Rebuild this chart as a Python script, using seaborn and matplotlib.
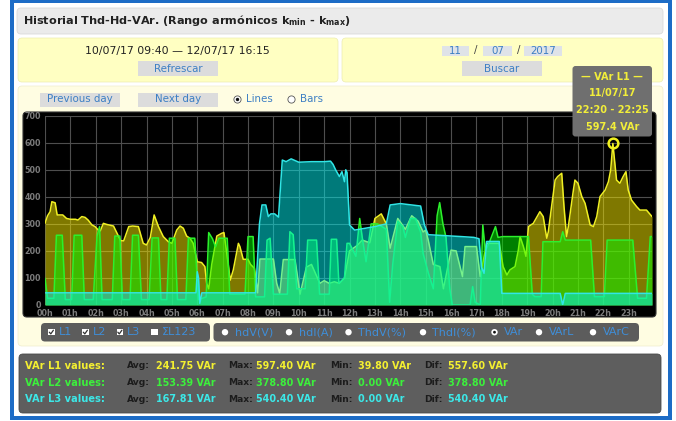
import numpy as np
import seaborn as sns
import matplotlib.pyplot as plt
from matplotlib.patches import FancyBboxPatch, Rectangle, Circle

W, H = 676, 421

# ---- series data (hour of day, VAr) ----
l1_hours = [0.00, 0.10, 0.20, 0.27, 0.40, 0.48, 0.70, 0.85, 1.00, 1.20, 1.30, 1.45, 1.58, 1.70,
            1.85, 1.97, 2.10, 2.18, 2.30, 2.43, 2.56, 2.70, 2.90, 2.98, 3.10, 3.30, 3.45, 3.68,
            3.87, 4.00, 4.15, 4.30, 4.47, 4.66, 4.86, 5.00, 5.19, 5.32, 5.45, 5.58, 5.71, 5.84,
            6.00, 6.17, 6.30, 6.37, 6.45, 6.57, 6.77, 6.96, 7.05, 7.15, 7.30, 7.42, 7.62, 7.68,
            7.81, 8.00, 8.10, 8.25, 8.38, 8.47, 9.00, 9.13, 9.25, 9.39, 9.85, 10.05, 10.30, 10.50,
            10.64, 10.83, 11.00, 11.20, 11.40, 11.60, 11.80, 12.00, 12.30, 12.50, 12.80, 13.00,
            13.25, 13.45, 13.60, 13.90, 14.20, 14.45, 14.70, 14.90, 15.00, 15.10, 15.30, 15.56,
            15.70, 16.00, 16.20, 16.45, 16.55, 17.00, 17.15, 17.40, 17.90, 18.05, 18.20, 18.32,
            18.52, 18.65, 18.72, 18.85, 18.95, 19.05, 19.24, 19.50, 19.63, 19.77, 19.83, 19.96,
            20.10, 20.20, 20.36, 20.45, 20.55, 20.62, 20.82, 20.88, 21.00, 21.15, 21.28, 21.48,
            21.61, 21.74, 21.87, 22.07, 22.20, 22.29, 22.375, 22.52, 22.65, 22.78, 22.89, 22.98,
            23.11, 23.31, 23.44, 23.70, 23.917]
l1_vals = [302, 330, 345, 382, 378, 333, 333, 320, 317, 317, 314, 327, 324, 314,
           296, 290, 277, 274, 302, 298, 295, 292, 253, 238, 237, 290, 292, 290,
           228, 222, 250, 333, 290, 253, 234, 228, 277, 292, 284, 255, 247, 228,
           160, 157, 142, 80, 60, 150, 255, 265, 268, 200, 92, 130, 228, 216,
           169, 169, 150, 136, 45, 170, 170, 80, 43, 168, 168, 40, 140, 150,
           120, 80, 90, 80, 86, 80, 100, 200, 220, 240, 230, 320,
           337, 300, 210, 320, 280, 330, 310, 270, 277, 240, 150, 142,
           60, 203, 200, 105, 216, 216, 105, 228, 228, 142, 111, 130,
           142, 203, 253, 216, 180, 290, 302, 345, 327, 247, 270, 364,
           462, 475, 487, 364, 253, 290, 425, 462, 450, 401, 376, 296,
           290, 327, 401, 425, 456, 500, 597.4, 462, 450, 475, 493, 425,
           388, 364, 351, 351, 327]

l2_hours = [0.00, 0.10, 0.35, 0.45, 0.68, 0.80, 1.05, 1.15, 1.45, 1.55, 1.90, 2.05, 2.15, 2.25,
            2.65, 2.75, 2.95, 3.05, 3.35, 3.45, 3.68, 3.80, 4.10, 4.22, 4.47, 4.57, 4.80, 4.90,
            5.12, 5.22, 5.55, 5.65, 5.90, 6.05, 6.35, 6.45, 6.60, 6.72, 6.85, 7.18, 7.28, 7.88,
            8.00, 8.20, 8.30, 8.65, 8.75, 8.87, 9.00, 9.55, 9.65, 9.78, 9.92, 10.25, 10.35, 10.70,
            10.82, 11.20, 11.28, 11.49, 11.58, 11.80, 11.90, 12.00, 12.25, 12.40, 12.50, 12.65,
            12.85, 13.10, 13.45, 13.58, 13.70, 13.90, 14.10, 14.20, 14.40, 14.60, 14.80, 14.90,
            15.10, 15.30, 15.45, 15.55, 15.68, 15.80, 15.95, 16.05, 16.75, 16.85, 16.95, 17.15,
            17.25, 17.35, 17.50, 17.75, 17.85, 18.05, 19.05, 19.20, 19.30, 19.55, 19.62, 20.30,
            20.40, 20.50, 21.50, 21.65, 22.04, 22.15, 23.16, 23.35, 23.70, 23.85, 23.917]
l2_vals = [99, 25, 25, 258, 258, 20, 20, 258, 258, 20, 20, 255, 290, 20,
           20, 255, 255, 20, 20, 258, 258, 20, 20, 248, 248, 20, 20, 247,
           247, 20, 20, 247, 247, 20, 30, 268, 245, 215, 247, 247, 40, 40,
           253, 253, 30, 30, 240, 247, 40, 40, 271, 260, 60, 60, 240, 240,
           40, 40, 243, 243, 80, 100, 228, 228, 180, 320, 250, 160,
           300, 300, 280, 10, 150, 310, 290, 250, 320, 320, 270, 190,
           120, 60, 330, 378.8, 300, 250, 60, 0, 0, 68, 10, 0,
           296, 200, 230, 290, 250, 253, 253, 40, 31, 31, 234, 234,
           271, 240, 240, 31, 31, 240, 240, 25, 25, 253, 253]

l3_hours = [0.00, 5.95, 6.00, 6.05, 6.10, 6.18, 8.30, 8.45, 8.55, 8.70, 8.80, 8.90, 9.05, 9.20,
            9.35, 9.50, 9.70, 10.00, 10.50, 11.00, 11.25, 11.35, 11.45, 11.60, 11.70, 11.80,
            11.85, 11.90, 12.00, 12.20, 13.00, 13.45, 13.60, 14.00, 14.80, 14.95, 15.10, 16.40,
            16.90, 17.10, 17.20, 17.30, 17.40, 17.90, 18.00, 20.30, 20.40, 20.50, 23.917]
l3_vals = [45, 45, 123, 100, 6, 45, 45, 300, 370, 370, 327, 337, 337, 325,
           536, 530, 540.4, 528, 530, 530, 532, 520, 500, 475, 493, 456,
           500, 490, 296, 277, 290, 300, 370, 375, 366, 296, 260, 253,
           250, 245, 140, 117, 235, 235, 43, 43, 0, 43, 43]

hour_labels = [f"{h:02d}h" for h in range(24)]
y_ticks = list(range(0, 701, 100))

series_names = ["VAr L1 values:", "VAr L2 values:", "VAr L3 values:"]
avg_vals = ["241.75 VAr", "153.39 VAr", "167.81 VAr"]
max_vals = ["597.40 VAr", "378.80 VAr", "540.40 VAr"]
min_vals = ["39.80 VAr", "0.00 VAr", "0.00 VAr"]
dif_vals = ["557.60 VAr", "378.80 VAr", "540.40 VAr"]

c_line = ["#f0f024", "#2cf02c", "#30e6e6"]
c_fill = ["#fff000", "#00ff00", "#00f4f4"]
c_text = ["#f4f030", "#3cf03c", "#3ce8e8"]

sns.set_style("white")
plt.rcParams['font.family'] = ['DejaVu Sans']
plt.rcParams['mathtext.fontset'] = 'dejavusans'

fig = plt.figure(figsize=(W / 100, H / 100), dpi=100)
fig.patch.set_facecolor("white")

bg = fig.add_axes([0, 0, 1, 1], zorder=0)
bg.set_xlim(0, W)
bg.set_ylim(H, 0)
bg.axis("off")


def rbox(axx, x0, y0, x1, y1, fc, r=4, ec="none", lw=0, z=1):
    p = FancyBboxPatch((x0 + r, y0 + r), x1 - x0 - 2 * r, y1 - y0 - 2 * r,
                       boxstyle=f"round,pad={r}", fc=fc, ec=ec, lw=lw, zorder=z)
    axx.add_patch(p)


# blue frame
blue = "#1d6cc6"
for (x0, y0, w, h) in [(10, 0, 662, 3), (10, 416, 662, 4), (10, 0, 4, 420), (668, 0, 4, 420)]:
    bg.add_patch(Rectangle((x0, y0), w, h, fc=blue, ec="none", zorder=1))

# title bar
rbox(bg, 17, 8, 663, 34, "#ebebeb", r=4, ec="#dadada", lw=0.6)
bg.text(23, 21, r"Historial Thd-Hd-VAr. (Rango armónicos k$_{\mathbf{min}}$ - k$_{\mathbf{max}}$)",
        fontsize=8.1, fontweight="bold", color="#222222", va="center", ha="left")

# top yellow panels
rbox(bg, 18, 38, 338, 82, "#ffffc2", r=4, ec="#ececb0", lw=0.5)
rbox(bg, 342, 38, 663, 82, "#ffffc2", r=4, ec="#ececb0", lw=0.5)
bg.text(177, 51, "10/07/17 09:40 — 12/07/17 16:15", fontsize=7.8, color="#222222",
        ha="center", va="center")
btn_c = "#dcdcdc"
txt_blue = "#3d7fc4"
bg.add_patch(Rectangle((138, 61), 80, 15, fc=btn_c, ec="none", zorder=2))
bg.text(178, 68.5, "Refrescar", fontsize=7.4, color=txt_blue, ha="center", va="center", zorder=3)
for (x0, x1, s) in [(442, 469, "11"), (483, 512, "07"), (524, 562, "2017")]:
    bg.add_patch(Rectangle((x0, 45.5), x1 - x0, 10, fc="#dfe3e8", ec="none", zorder=2))
    bg.text((x0 + x1) / 2, 50.5, s, fontsize=7.4, color=txt_blue, ha="center", va="center", zorder=3)
bg.text(476, 50.5, "/", fontsize=7.4, color="#444444", ha="center", va="center")
bg.text(518.5, 50.5, "/", fontsize=7.4, color="#444444", ha="center", va="center")
bg.add_patch(Rectangle((462, 61), 80, 15, fc=btn_c, ec="none", zorder=2))
bg.text(502, 68.5, "Buscar", fontsize=7.4, color=txt_blue, ha="center", va="center", zorder=3)

# main panel
rbox(bg, 18, 86, 663, 346, "#fffde2", r=4, ec="#eeeccc", lw=0.5)
bg.add_patch(Rectangle((40, 92.5), 80, 14, fc=btn_c, ec="none", zorder=2))
bg.text(80, 99.5, "Previous day", fontsize=7.4, color=txt_blue, ha="center", va="center", zorder=3)
bg.add_patch(Rectangle((138, 92.5), 80, 14, fc=btn_c, ec="none", zorder=2))
bg.text(178, 99.5, "Next day", fontsize=7.4, color=txt_blue, ha="center", va="center", zorder=3)
bg.add_patch(Circle((237.5, 99.5), 3.6, fc="white", ec="#555555", lw=0.6, zorder=3))
bg.add_patch(Circle((237.5, 99.5), 1.7, fc="#111111", ec="none", zorder=4))
bg.text(246, 99.5, "Lines", fontsize=7.4, color=txt_blue, ha="left", va="center")
bg.add_patch(Circle((291.5, 99.5), 3.6, fc="white", ec="#555555", lw=0.6, zorder=3))
bg.text(300, 99.5, "Bars", fontsize=7.4, color=txt_blue, ha="left", va="center")

# chart black box
rbox(bg, 23, 112, 656, 317, "black", r=4, ec="#333333", lw=0.8, z=2)

# legend pills
leg_blue = "#3f8ed8"
rbox(bg, 41, 323, 210, 341.5, "#5c5c5c", r=4, z=2)
rbox(bg, 213.5, 323, 639, 341.5, "#5c5c5c", r=4, z=2)
for (bx, lab, chk) in [(48, "L1", True), (82, "L2", True), (116.5, "L3", True), (151, "ΣL123", False)]:
    bg.add_patch(Rectangle((bx, 328.8), 6.5, 6.5, fc="white", ec="none", zorder=3))
    if chk:
        bg.plot([bx + 1.3, bx + 2.8, bx + 5.4], [332.2, 333.9, 330.2], color="#333333", lw=0.9, zorder=4)
    bg.text(bx + 10.5, 332.2, lab, fontsize=8, color=leg_blue, ha="left", va="center", zorder=4)
for (bx, lab, sel) in [(225, "hdV(V)", False), (289, "hdI(A)", False), (348.5, "ThdV(%)", False),
                       (423, "ThdI(%)", False), (494.5, "VAr", True), (539, "VArL", False),
                       (593, "VArC", False)]:
    bg.add_patch(Circle((bx, 332.2), 3.2, fc="white", ec="none", zorder=3))
    if sel:
        bg.add_patch(Circle((bx, 332.2), 1.4, fc="#111111", ec="none", zorder=4))
    bg.text(bx + 9.5, 332.2, lab, fontsize=8, color=leg_blue, ha="left", va="center", zorder=4)

# stats panel
rbox(bg, 19, 354, 661, 413, "#5e5e5e", r=4, ec="#4a4a4a", lw=0.6)
row_y = [366, 382.7, 399.3]
for i in range(3):
    y = row_y[i]
    kw = dict(fontweight="bold", va="center", ha="left", zorder=3)
    bg.text(25, y, series_names[i], color=c_text[i], fontsize=7.1, **kw)
    for (lx, vx, lab, val) in [(126.5, 156.5, "Avg:", avg_vals[i]), (228, 256.5, "Max:", max_vals[i]),
                               (330, 358.5, "Min:", min_vals[i]), (424, 448.5, "Dif:", dif_vals[i])]:
        bg.text(lx, y, lab, color="#1c1c1c", fontsize=6.6, **kw)
        bg.text(vx, y, val, color=c_text[i], fontsize=6.9, **kw)

# ---- chart ----
ax = fig.add_axes([45 / W, 1 - 305 / H, 607 / W, 189.3 / H], zorder=1)
ax.set_facecolor("black")
ax.set_xlim(0, 23.917)
ax.set_ylim(0, 700)
ax.set_axisbelow(True)
ax.grid(True, color="#4e4e4e", lw=0.8)
for s in ax.spines.values():
    s.set_visible(False)

series = [(l1_hours, l1_vals), (l2_hours, l2_vals), (l3_hours, l3_vals)]
for i, (hx, vy) in enumerate(series):
    ax.fill_between(hx, vy, 0, color=c_fill[i], alpha=0.5, lw=0, zorder=2 + 2 * i)
    sns.lineplot(x=hx, y=vy, ax=ax, color=c_line[i], lw=1.1, estimator=None, sort=False,
                 zorder=3 + 2 * i)

ax.plot([22.375], [597.4], "o", mfc="none", mec="#f0f020", ms=7, mew=1.8, zorder=12)

ax.set_xticks(range(24))
ax.set_xticklabels(hour_labels)
ax.set_yticks(y_ticks)
ax.set_yticklabels([str(v) for v in y_ticks])
ax.tick_params(length=0, colors="#7c7c7c", labelsize=5.8, pad=3)
for t in ax.get_xticklabels() + ax.get_yticklabels():
    t.set_fontweight("bold")
ax.set_xlabel("")
ax.set_ylabel("")

# tooltip
fg = fig.add_axes([0, 0, 1, 1], zorder=3)
fg.set_xlim(0, W)
fg.set_ylim(H, 0)
fg.axis("off")
fg.patch.set_alpha(0)
rbox(fg, 572.5, 66, 652, 136.5, "#6f6f6f", r=3)
for (ty, s) in [(77, "— VAr L1 —"), (92.7, "11/07/17"), (110, "22:20 - 22:25"), (126.7, "597.4 VAr")]:
    fg.text(612.3, ty, s, fontsize=7, fontweight="bold", color="#f2ee3a", ha="center", va="center", zorder=5)

fig.savefig("out.png", dpi=100)
